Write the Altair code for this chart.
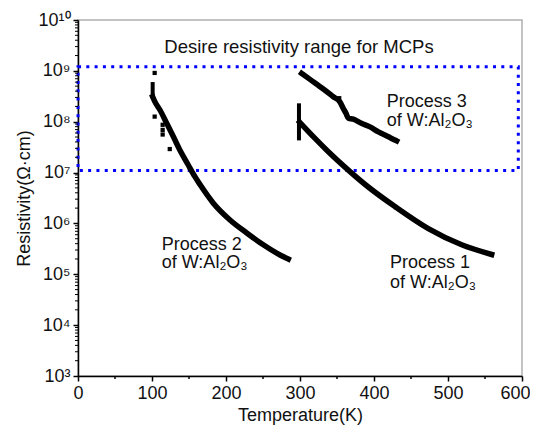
import altair as alt
import pandas as pd

# ---------------- data ----------------
# Process 2: initial vertical jump, then curve
p2v_T = [100.9, 100.9]
p2v_R = [5.5e8, 3.1e8]
p2_T = [100.9, 104.0, 110.8, 119.9, 128.8, 137.8, 149.0, 158.0, 164.9, 182.9, 205.4, 228.0, 250.4, 273.0, 284.2]
p2_R = [3.1e8, 2.45e8, 1.7e8, 9.3e7, 5.1e7, 2.75e7, 1.41e7, 8.3e6, 5.8e6, 2.5e6, 1.17e6, 6.5e5, 3.8e5, 2.4e5, 2.0e5]
# Process 2 scattered points
p2s_T = [103.6, 103.6, 114.4, 114.4, 114.4, 124.0]
p2s_R = [9.1e8, 1.26e8, 8.7e7, 6.9e7, 5.6e7, 2.9e7]

# Process 1: initial vertical jump, then curve
p1v_T = [298.6, 298.6]
p1v_R = [2.1e8, 4.7e7]
p1_T = [299.5, 320.3, 338.3, 365.3, 392.3, 428.4, 473.4, 518.5, 559.0]
p1_R = [9.8e7, 4.7e7, 2.57e7, 1.12e7, 5.2e6, 2.14e6, 7.9e5, 3.8e5, 2.45e5]

# Process 3
p3_T = [302.3, 313.5, 331.5, 345.0, 354.0, 358.5, 362.0, 365.3, 372.0, 383.0, 394.6, 406.0, 418.0, 430.6]
p3_R = [8.9e8, 6.8e8, 4.4e8, 3.1e8, 2.45e8, 1.82e8, 1.48e8, 1.17e8, 1.12e8, 9.3e7, 7.9e7, 6.3e7, 5.2e7, 4.2e7]
p3s_T = [353.0]
p3s_R = [2.9e8]

# Desired resistivity window
box_T = [0, 595]
box_R = [1.1e7, 1.2e9]

# Annotations
ann_text = ["Desire resistivity range for MCPs",
            "Process 2", "of W:Al\u2082O\u2083",
            "Process 1", "of W:Al\u2082O\u2083",
            "Process 3", "of W:Al\u2082O\u2083"]
ann_T = [298.6, 113.1, 113.1, 421.6, 421.6, 417.2, 417.2]
ann_R = [2.24e9, 3.0e5, 1.31e5, 1.31e5, 5.3e4, 1.97e8, 8.2e7]
ann_align = ["center", "left", "left", "left", "left", "left", "left"]

# Axis ticks
x_major = [0, 100, 200, 300, 400, 500, 600]
x_minor = [50, 150, 250, 350, 450, 550]
y_major = [1e3, 1e4, 1e5, 1e6, 1e7, 1e8, 1e9, 1e10]
y_minor = [k * 10 ** n for n in range(3, 10) for k in range(2, 10)]

FONT = "Liberation Sans"

# ---------------- tables ----------------
def long(series):
    rows = []
    for name, Ts, Rs in series:
        for i, (t, r) in enumerate(zip(Ts, Rs)):
            rows.append({"s": name, "i": i, "T": t, "R": r})
    return pd.DataFrame(rows)

curves_df = long([("p2", p2_T, p2_R), ("p1", p1_T, p1_R), ("p3", p3_T, p3_R)])
vert_df = long([("p2v", p2v_T, p2v_R), ("p1v", p1v_T, p1v_R)])
pts_df = pd.DataFrame({"T": p2s_T + p3s_T, "R": p2s_R + p3s_R})
box_df = pd.DataFrame({"T": [box_T[0]], "T2": [box_T[1]], "R": [box_R[0]], "R2": [box_R[1]]})
ann_df = pd.DataFrame({"t": ann_text, "T": ann_T, "R": ann_R, "a": ann_align})
xmin_df = pd.DataFrame({"T": x_minor})
ymin_df = pd.DataFrame({"R": y_minor})

W, H = 444, 356
FS = 18

xscale = alt.Scale(domain=[0, 600], nice=False, zero=False)
yscale = alt.Scale(type="log", domain=[1e3, 1e10], nice=False)

xaxis = alt.Axis(values=x_major, title="Temperature(K)", grid=False,
                 tickSize=5, tickColor="black", tickWidth=1.5,
                 domainColor="black", domainWidth=1.5,
                 labelFont=FONT, labelFontSize=FS, labelColor="#111111", labelPadding=3,
                 labelOffset={"condition": {"test": "datum.value == 600", "value": -7}, "value": 0},
                 titleFont=FONT, titleFontSize=FS, titleFontWeight="normal",
                 titleColor="#111111", titlePadding=4, labelFlush=False)
yaxis = alt.Axis(values=y_major, title="Resistivity(\u03a9\u00b7cm)", grid=False,
                 labelExpr="'10' + ['\u2070','\u00b9','\u00b2','\u00b3','\u2074','\u2075','\u2076','\u2077','\u2078','\u2079','\u00b9\u2070'][round(log(datum.value)/LN10)]",
                 tickSize=5, tickColor="black", tickWidth=1.5,
                 domainColor="black", domainWidth=1.5,
                 labelFont=FONT, labelFontSize=FS, labelColor="#111111", labelPadding=3,
                 titleFont=FONT, titleFontSize=FS, titleFontWeight="normal",
                 titleColor="#111111", titlePadding=4, labelFlush=False)

X = alt.X("T:Q", scale=xscale, axis=xaxis)
Y = alt.Y("R:Q", scale=yscale, axis=yaxis)

box = alt.Chart(box_df).mark_rect(
    fillOpacity=0, stroke="#0000ff", strokeWidth=3, strokeDash=[3, 5.3]
).encode(x=X, x2="T2:Q", y=Y, y2="R2:Q")

curves = alt.Chart(curves_df).mark_line(
    color="black", strokeWidth=5.5, strokeCap="square", strokeJoin="round",
    interpolate="monotone"
).encode(x=X, y=Y, detail="s:N", order="i:Q")

verts = alt.Chart(vert_df).mark_line(
    color="black", strokeWidth=4, strokeCap="square"
).encode(x=X, y=Y, detail="s:N", order="i:Q")

pts = alt.Chart(pts_df).mark_square(color="black", size=18, opacity=1).encode(x=X, y=Y)

yminor = alt.Chart(ymin_df).mark_rule(color="black", strokeWidth=1).encode(
    y=Y, x=alt.value(-3), x2=alt.value(0))
xminor = alt.Chart(xmin_df).mark_rule(color="black", strokeWidth=1.5).encode(
    x=X, y=alt.value(H), y2=alt.value(H + 3))

ann_left = alt.Chart(ann_df[ann_df["a"] == "left"]).mark_text(
    font=FONT, fontSize=FS, color="#111111", baseline="alphabetic", align="left"
).encode(x=X, y=Y, text="t:N")
ann_center = alt.Chart(ann_df[ann_df["a"] == "center"]).mark_text(
    font=FONT, fontSize=18.5, color="#111111", baseline="alphabetic", align="center"
).encode(x=X, y=Y, text="t:N")

chart = alt.layer(box, curves, verts, pts, yminor, xminor, ann_left, ann_center).properties(
    width=W, height=H,
    autosize=alt.AutoSizeParams(type="none"),
    padding={"left": 70, "top": 12, "right": 8, "bottom": 49},
    background="white",
).configure_view(stroke="#b0b0b0", strokeWidth=1.5)

chart.save("out.html", embed_options={"renderer": "svg", "actions": False})
